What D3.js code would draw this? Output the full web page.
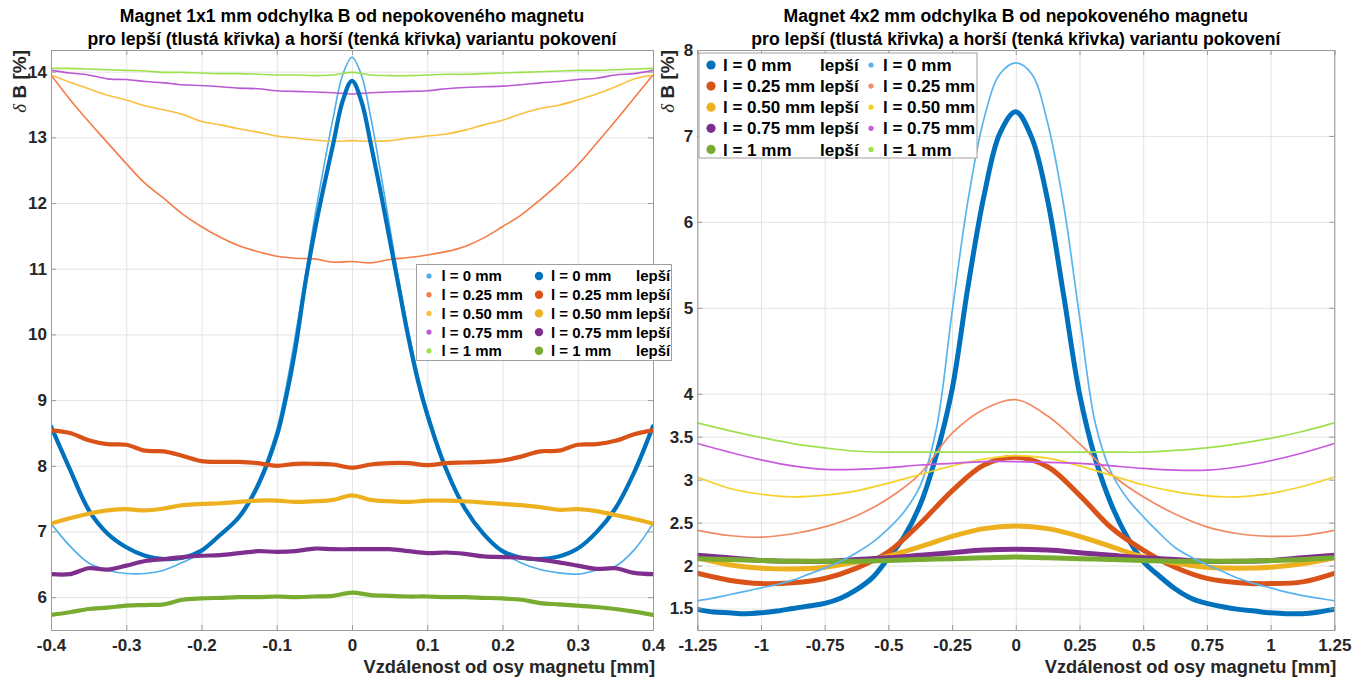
<!DOCTYPE html>
<html><head><meta charset="utf-8">
<script src="https://cdn.jsdelivr.net/npm/d3@7"></script>
<style>
body{margin:0;background:#fff;}
svg text{font-family:"Liberation Sans",Arial,Helvetica,sans-serif;}
</style></head><body>
<svg id="chart" width="1367" height="682"></svg>
<script>
// ---------------- LEFT PANEL DATA (Magnet 1x1 mm) ----------------
const leftX = [-0.4,-0.375,-0.35,-0.325,-0.3,-0.275,-0.25,-0.225,-0.2,-0.175,-0.15,-0.125,-0.1,-0.075,-0.05,-0.025,0,0.025,0.05,0.075,0.1,0.125,0.15,0.175,0.2,0.225,0.25,0.275,0.3,0.325,0.35,0.375,0.4];
const leftXBlue = [-0.4,-0.375,-0.35,-0.325,-0.3,-0.275,-0.25,-0.225,-0.2,-0.175,-0.15,-0.125,-0.1,-0.0875,-0.075,-0.0625,-0.05,-0.0375,-0.025,-0.0125,0,0.0125,0.025,0.0375,0.05,0.0625,0.075,0.0875,0.1,0.125,0.15,0.175,0.2,0.225,0.25,0.275,0.3,0.325,0.35,0.375,0.4];
const left_l0_worse = [7.12,6.78,6.52,6.41,6.36,6.36,6.41,6.53,6.68,6.95,7.25,7.75,8.55,9.2,10.0,10.85,11.75,12.55,13.3,13.95,14.22,13.95,13.3,12.5,11.65,10.8,10.05,9.4,8.85,7.98,7.35,6.96,6.68,6.52,6.42,6.37,6.35,6.41,6.47,6.72,7.12];
const left_l0_better = [8.60,7.95,7.33,6.97,6.76,6.63,6.58,6.60,6.71,6.95,7.22,7.70,8.45,9.05,9.80,10.75,11.55,12.25,12.90,13.55,13.86,13.55,12.90,12.2,11.45,10.7,9.95,9.3,8.78,7.95,7.35,6.96,6.70,6.60,6.58,6.62,6.74,6.99,7.35,7.90,8.60];
const left_l025_worse = [13.95,13.58,13.24,12.92,12.60,12.30,12.07,11.83,11.64,11.48,11.35,11.26,11.19,11.16,11.15,11.10,11.11,11.09,11.14,11.17,11.21,11.26,11.34,11.47,11.64,11.82,12.05,12.30,12.58,12.91,13.25,13.60,13.95];
const left_l050_worse = [13.95,13.84,13.74,13.64,13.57,13.48,13.42,13.35,13.24,13.19,13.13,13.08,13.02,12.99,12.96,12.94,12.95,12.94,12.95,12.99,13.02,13.05,13.11,13.19,13.26,13.36,13.44,13.49,13.57,13.66,13.77,13.89,13.95];
const left_l075_worse = [14.02,13.98,13.95,13.89,13.88,13.85,13.83,13.80,13.79,13.77,13.75,13.74,13.71,13.70,13.69,13.68,13.66,13.68,13.69,13.70,13.71,13.74,13.76,13.77,13.78,13.80,13.83,13.85,13.88,13.90,13.95,13.97,14.02];
const left_l1_worse = [14.05,14.05,14.04,14.03,14.02,14.01,13.99,13.99,13.98,13.97,13.97,13.96,13.95,13.95,13.94,13.95,13.99,13.95,13.94,13.94,13.95,13.96,13.96,13.97,13.98,13.99,14.0,14.01,14.02,14.02,14.03,14.04,14.05];
const left_l025_better = [8.54,8.50,8.39,8.33,8.32,8.23,8.22,8.15,8.07,8.06,8.06,8.04,8.00,8.03,8.03,8.02,7.97,8.02,8.04,8.04,8.01,8.04,8.05,8.06,8.08,8.14,8.22,8.23,8.32,8.33,8.38,8.48,8.54];
const left_l050_better = [7.12,7.20,7.27,7.32,7.34,7.32,7.35,7.40,7.42,7.43,7.45,7.47,7.47,7.45,7.46,7.48,7.55,7.48,7.46,7.45,7.47,7.47,7.46,7.44,7.42,7.40,7.37,7.33,7.34,7.31,7.25,7.19,7.12];
const left_l075_better = [6.35,6.35,6.44,6.42,6.48,6.55,6.58,6.61,6.63,6.64,6.67,6.70,6.69,6.70,6.74,6.73,6.73,6.73,6.73,6.70,6.67,6.68,6.66,6.62,6.61,6.60,6.57,6.53,6.48,6.43,6.44,6.37,6.35];
const left_l1_better = [5.73,5.77,5.82,5.84,5.87,5.88,5.89,5.96,5.98,5.99,6.0,6.0,6.01,6.0,6.01,6.02,6.07,6.03,6.02,6.01,6.01,6.0,6.0,5.99,5.98,5.96,5.91,5.89,5.87,5.85,5.82,5.78,5.73];
const leftXTicks = [-0.4,-0.3,-0.2,-0.1,0,0.1,0.2,0.3,0.4];
const leftXTickLabels = ["-0.4","-0.3","-0.2","-0.1","0","0.1","0.2","0.3","0.4"];
const leftYTicks = [6,7,8,9,10,11,12,13,14];
const leftYTickLabels = ["6","7","8","9","10","11","12","13","14"];

// ---------------- RIGHT PANEL DATA (Magnet 4x2 mm) ----------------
const rightX = [-1.25,-1.125,-1,-0.875,-0.75,-0.625,-0.5,-0.375,-0.25,-0.125,0,0.125,0.25,0.375,0.5,0.625,0.75,0.875,1,1.125,1.25];
const rightXBlue = [-1.25,-1.1875,-1.125,-1.0625,-1,-0.9375,-0.875,-0.8125,-0.75,-0.6875,-0.625,-0.5625,-0.5,-0.4375,-0.375,-0.3125,-0.25,-0.1875,-0.125,-0.0625,0,0.0625,0.125,0.1875,0.25,0.3125,0.375,0.4375,0.5,0.5625,0.625,0.6875,0.75,0.8125,0.875,0.9375,1,1.0625,1.125,1.1875,1.25];
const right_l0_better = [1.49,1.46,1.45,1.44,1.45,1.47,1.50,1.53,1.56,1.62,1.72,1.86,2.09,2.34,2.71,3.28,4.05,5.25,6.30,7.03,7.28,6.98,6.25,5.15,4.0,3.24,2.71,2.33,2.05,1.88,1.73,1.62,1.56,1.52,1.49,1.47,1.45,1.44,1.44,1.46,1.49];
const right_l0_worse = [1.59,1.62,1.66,1.70,1.74,1.78,1.83,1.90,1.97,2.05,2.15,2.27,2.43,2.63,2.93,3.58,4.95,6.25,7.2,7.72,7.85,7.72,7.15,6.2,4.9,3.65,3.08,2.78,2.57,2.38,2.21,2.10,2.01,1.93,1.85,1.79,1.74,1.69,1.65,1.62,1.59];
const right_l025_better = [1.91,1.83,1.79,1.80,1.85,1.97,2.16,2.49,2.87,3.17,3.26,3.15,2.82,2.44,2.18,1.98,1.85,1.80,1.79,1.81,1.91];
const right_l050_better = [2.09,2.01,1.97,1.96,1.98,2.04,2.11,2.22,2.34,2.43,2.46,2.43,2.34,2.22,2.10,2.03,1.98,1.97,1.98,2.02,2.09];
const right_l075_better = [2.12,2.09,2.06,2.05,2.05,2.07,2.09,2.12,2.15,2.18,2.19,2.18,2.15,2.12,2.09,2.07,2.05,2.05,2.06,2.09,2.12];
const right_l1_better = [2.08,2.07,2.06,2.05,2.05,2.05,2.06,2.07,2.08,2.09,2.10,2.09,2.08,2.07,2.06,2.05,2.05,2.05,2.06,2.07,2.09];
const right_l025_worse = [2.41,2.35,2.33,2.37,2.45,2.58,2.78,3.07,3.54,3.82,3.93,3.74,3.42,3.06,2.80,2.60,2.45,2.37,2.34,2.35,2.41];
const right_l050_worse = [3.03,2.90,2.83,2.80,2.82,2.87,2.96,3.06,3.16,3.24,3.28,3.25,3.16,3.05,2.94,2.86,2.81,2.80,2.84,2.92,3.03];
const right_l075_worse = [3.42,3.32,3.23,3.16,3.12,3.12,3.14,3.17,3.19,3.21,3.21,3.20,3.19,3.16,3.13,3.11,3.11,3.15,3.22,3.31,3.42];
const right_l1_worse = [3.66,3.57,3.49,3.42,3.37,3.33,3.32,3.32,3.32,3.32,3.32,3.32,3.32,3.32,3.32,3.34,3.37,3.42,3.48,3.56,3.66];
const rightXTicks = [-1.25,-1,-0.75,-0.5,-0.25,0,0.25,0.5,0.75,1,1.25];
const rightXTickLabels = ["-1.25","-1","-0.75","-0.5","-0.25","0","0.25","0.5","0.75","1","1.25"];
const rightYTicks = [1.5,2,2.5,3,3.5,4,5,6,7,8];
const rightYTickLabels = ["1.5","2","2.5","3","3.5","4","5","6","7","8"];

// ---------------- LABELS ----------------
const seriesNames = ["l = 0 mm","l = 0.25 mm","l = 0.50 mm","l = 0.75 mm","l = 1 mm"];
const betterSuffix = "lepší";
const leftTitle = ["Magnet 1x1 mm odchylka B od nepokoveného magnetu","pro lepší (tlustá křivka) a horší (tenká křivka) variantu pokovení"];
const rightTitle = ["Magnet 4x2 mm odchylka B od nepokoveného magnetu","pro lepší (tlustá křivka) a horší (tenká křivka) variantu pokovení"];
const xAxisLabel = "Vzdálenost od osy magnetu [mm]";

const thickColors = ["#0072BD","#D95319","#EDB120","#7E2F8E","#77AC30"];
const leftThinColors = ["#4daeea","#f57b47","#fbbf3e","#b85ad4","#9be24c"];
const rightThinColors = ["#59b4ee","#f28a63","#f4d22c","#c85ade","#9fe04e"];

const svg = d3.select("#chart");
const FONT = '"Liberation Sans",Arial,Helvetica,sans-serif';

function drawPanel(p) {
  const g = svg.append("g");
  const x = d3.scaleLinear().domain(p.xDomain).range([p.x0, p.x1]);
  const y = d3.scaleLinear().domain(p.yDomain).range([p.yBot, p.yTop]);
  const w = p.x1 - p.x0, h = p.yBot - p.yTop;

  // grid
  const gx = g.append("g").attr("transform", `translate(0,${p.yBot})`)
    .call(d3.axisBottom(x).tickValues(p.xTicks).tickSize(-h).tickFormat(""));
  const gy = g.append("g").attr("transform", `translate(${p.x0},0)`)
    .call(d3.axisLeft(y).tickValues(p.yTicks).tickSize(-w).tickFormat(""));
  [gx, gy].forEach(a => { a.select(".domain").remove(); a.selectAll("line").attr("stroke", "#e4e4e4").attr("stroke-width", 1); });

  // lines
  const clipId = "clip" + p.id;
  svg.append("clipPath").attr("id", clipId).append("rect")
    .attr("x", p.x0).attr("y", p.yTop).attr("width", w).attr("height", h);
  const line = d3.line().x(d => x(d[0])).y(d => y(d[1])).curve(d3.curveCatmullRom.alpha(0.5));
  const lg = g.append("g").attr("clip-path", `url(#${clipId})`);
  p.series.forEach(s => {
    const pts = s.xs.map((xv, i) => [xv, s.ys[i]]);
    lg.append("path").datum(pts).attr("d", line).attr("fill", "none")
      .attr("stroke", s.color).attr("stroke-width", s.width)
      .attr("stroke-linejoin", "round").attr("stroke-linecap", "round");
  });

  // axes (inward ticks, box)
  const axCol = "#9a9a9a";
  const bottom = g.append("g").attr("transform", `translate(0,${p.yBot})`)
    .call(d3.axisBottom(x).tickValues(p.xTicks).tickSize(-5).tickPadding(9).tickFormat((d, i) => p.xTickLabels[i]));
  const top = g.append("g").attr("transform", `translate(0,${p.yTop})`)
    .call(d3.axisTop(x).tickValues(p.xTicks).tickSize(-5).tickFormat(""));
  const left = g.append("g").attr("transform", `translate(${p.x0},0)`)
    .call(d3.axisLeft(y).tickValues(p.yTicks).tickSize(-5).tickPadding(4).tickFormat((d, i) => p.yTickLabels[i]));
  const right = g.append("g").attr("transform", `translate(${p.x1},0)`)
    .call(d3.axisRight(y).tickValues(p.yTicks).tickSize(-5).tickFormat(""));
  [bottom, top, left, right].forEach(a => {
    a.select(".domain").attr("stroke", axCol).attr("stroke-width", 1);
    a.selectAll(".tick line").attr("stroke", axCol);
    a.selectAll(".tick text").attr("fill", "#262626").attr("font-size", 17)
      .attr("font-weight", "bold").attr("font-family", FONT);
  });

  // titles
  p.title.forEach((t, i) => {
    g.append("text").attr("x", (p.x0 + p.x1) / 2).attr("y", 22 + i * 23)
      .attr("text-anchor", "middle").attr("font-size", 17.6).attr("font-weight", "bold")
      .attr("fill", "#000").text(t);
  });
  // x label
  g.append("text").attr("x", p.x1 + 2).attr("y", 673).attr("text-anchor", "end")
    .attr("font-size", 18.3).attr("font-weight", "bold").attr("fill", "#262626").text(xAxisLabel);
  // y label
  const yl = g.append("text").attr("transform", `translate(${p.yLabelX},${p.yTop}) rotate(-90)`)
    .attr("text-anchor", "end").attr("font-size", 19).attr("fill", "#262626");
  yl.append("tspan").attr("font-style", "italic").attr("font-family", '"Liberation Serif","DejaVu Serif",serif').text("δ");
  yl.append("tspan").attr("font-weight", "bold").text(" B [%]");

  // legend
  const L = p.legend;
  const lgd = g.append("g");
  lgd.append("rect").attr("x", L.x).attr("y", L.y).attr("width", L.w).attr("height", L.h)
    .attr("fill", "#fff").attr("stroke", "#a0a0a0").attr("stroke-width", 1);
  L.cols.forEach(col => {
    seriesNames.forEach((name, i) => {
      const cy = L.y + L.firstRow + i * L.rowStep;
      lgd.append("circle").attr("cx", col.mx).attr("cy", cy).attr("r", col.r).attr("fill", col.colors[i]);
      lgd.append("text").attr("x", col.tx).attr("y", cy + L.fs * 0.36).attr("font-size", L.fs)
        .attr("font-weight", "bold").attr("fill", "#000").text(name);
      if (col.suffixX) {
        lgd.append("text").attr("x", col.suffixX).attr("y", cy + L.fs * 0.36).attr("font-size", L.fs)
          .attr("font-weight", "bold").attr("fill", "#000").text(betterSuffix);
      }
    });
  });
}

// left panel
const leftSeries = [];
const leftWorse = [left_l0_worse, left_l025_worse, left_l050_worse, left_l075_worse, left_l1_worse];
const leftBetter = [left_l0_better, left_l025_better, left_l050_better, left_l075_better, left_l1_better];
leftWorse.forEach((ys, i) => leftSeries.push({xs: i === 0 ? leftXBlue : leftX, ys, color: leftThinColors[i], width: 1.6}));
leftBetter.forEach((ys, i) => leftSeries.push({xs: i === 0 ? leftXBlue : leftX, ys, color: thickColors[i], width: 4.2}));

drawPanel({
  id: "L", x0: 51, x1: 653, yTop: 50, yBot: 630,
  xDomain: [-0.4, 0.4], yDomain: [5.5, 14.33],
  xTicks: leftXTicks, xTickLabels: leftXTickLabels, yTicks: leftYTicks, yTickLabels: leftYTickLabels,
  series: leftSeries, title: leftTitle, yLabelX: 26,
  legend: {x: 416.5, y: 264.5, w: 255, h: 96, firstRow: 11.5, rowStep: 18.7, fs: 15,
    cols: [{mx: 429, tx: 441.5, r: 2.6, colors: leftThinColors},
           {mx: 539, tx: 551, r: 4.2, colors: thickColors, suffixX: 636}]}
});

// right panel
const rightSeries = [];
const rightBetter = [right_l0_better, right_l025_better, right_l050_better, right_l075_better, right_l1_better];
const rightWorse = [right_l0_worse, right_l025_worse, right_l050_worse, right_l075_worse, right_l1_worse];
rightBetter.forEach((ys, i) => rightSeries.push({xs: i === 0 ? rightXBlue : rightX, ys, color: thickColors[i], width: 5}));
rightWorse.forEach((ys, i) => rightSeries.push({xs: i === 0 ? rightXBlue : rightX, ys, color: rightThinColors[i], width: 1.7}));

drawPanel({
  id: "R", x0: 697.3, x1: 1334.3, yTop: 50, yBot: 630,
  xDomain: [-1.25, 1.25], yDomain: [1.25, 8],
  xTicks: rightXTicks, xTickLabels: rightXTickLabels, yTicks: rightYTicks, yTickLabels: rightYTickLabels,
  series: rightSeries, title: rightTitle, yLabelX: 674,
  legend: {x: 699, y: 53, w: 278, h: 105, firstRow: 12, rowStep: 21.1, fs: 17,
    cols: [{mx: 711, tx: 723, r: 4.6, colors: thickColors, suffixX: 820},
           {mx: 871, tx: 883, r: 2.6, colors: rightThinColors}]}
});
</script>
</body></html>
